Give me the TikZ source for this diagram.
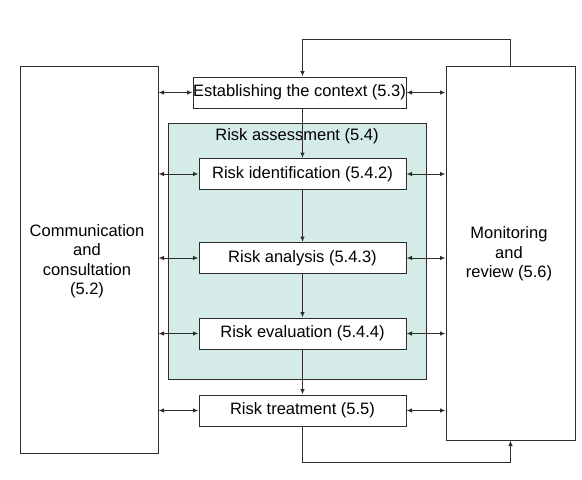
\documentclass[tikz,border=0pt]{standalone}
\usepackage{fontspec}
\setmainfont{Liberation Sans}
\definecolor{assessteal}{RGB}{212,235,231}
\definecolor{linegray}{RGB}{45,45,45}
\usetikzlibrary{arrows.meta}

\begin{document}
\begin{tikzpicture}[x=1pt, y=-1pt,
    font=\fontsize{16.5}{19.5}\selectfont,
    stepbox/.style={draw=linegray, line width=1pt, fill=white, inner sep=0pt, minimum height=31pt},
    sidebox/.style={draw=linegray, line width=1pt, fill=white, inner sep=0pt, align=center},
    link/.style={draw=linegray, line width=1pt},
    both/.style={link, {Latex[length=5.5pt,width=4.5pt]}-{Latex[length=5.5pt,width=4.5pt]}},
    one/.style={link, -{Latex[length=5.5pt,width=4.5pt]}}]
                \useasboundingbox (0,0) rectangle (582,480);

                % side boxes
                \node[sidebox, minimum width=138pt, minimum height=387pt] (comm) at (89,259.5) {};
                \node[align=center] (commtext) at (87,261) {Communication\\and\\consultation\\(5.2)};
                \node[sidebox, minimum width=129pt, minimum height=374pt] (mon) at (510.5,253) {};
                \node[align=center] (montext) at (509,254) {Monitoring\\and\\review (5.6)};

                % risk assessment area
                \node[draw=linegray, line width=1pt, fill=assessteal, minimum width=258pt, minimum height=256pt, inner sep=0pt] (assess) at (297,251) {};
                \node (assesstext) at (297,136) {Risk assessment (5.4)};

                % process steps
                \node[stepbox, minimum width=213pt] (est) at (299.5,92.5) {Establishing the context (5.3)};
                \node[stepbox, minimum width=207pt] (ident) at (302.5,174) {Risk identification (5.4.2)};
                \node[stepbox, minimum width=207pt] (anal) at (302.5,258) {Risk analysis (5.4.3)};
                \node[stepbox, minimum width=207pt] (eval) at (302.5,333.5) {Risk evaluation (5.4.4)};
                \node[stepbox, minimum width=207pt] (treat) at (302.5,410.5) {Risk treatment (5.5)};

                % main flow
                \draw[one] (est.south -| ident.north) -- (ident.north);
                \draw[one] (ident) -- (anal);
                \draw[one] (anal) -- (eval);
                \draw[one] (eval) -- (treat);

                % loops to and from monitoring
                \draw[one] (mon.north) -- ++(0,-26) -| (est.north -| ident.north);
                \draw[one] (treat.south) -- ++(0,36) -| (mon.south);

                % links to communication and monitoring
                \foreach \s in {est, ident, anal, eval, treat} {
                    \draw[both] (comm.east |- \s.west) -- (\s.west);
                    \draw[both] (\s.east) -- (mon.west |- \s.east);
                }
            \end{tikzpicture}
\end{document}
